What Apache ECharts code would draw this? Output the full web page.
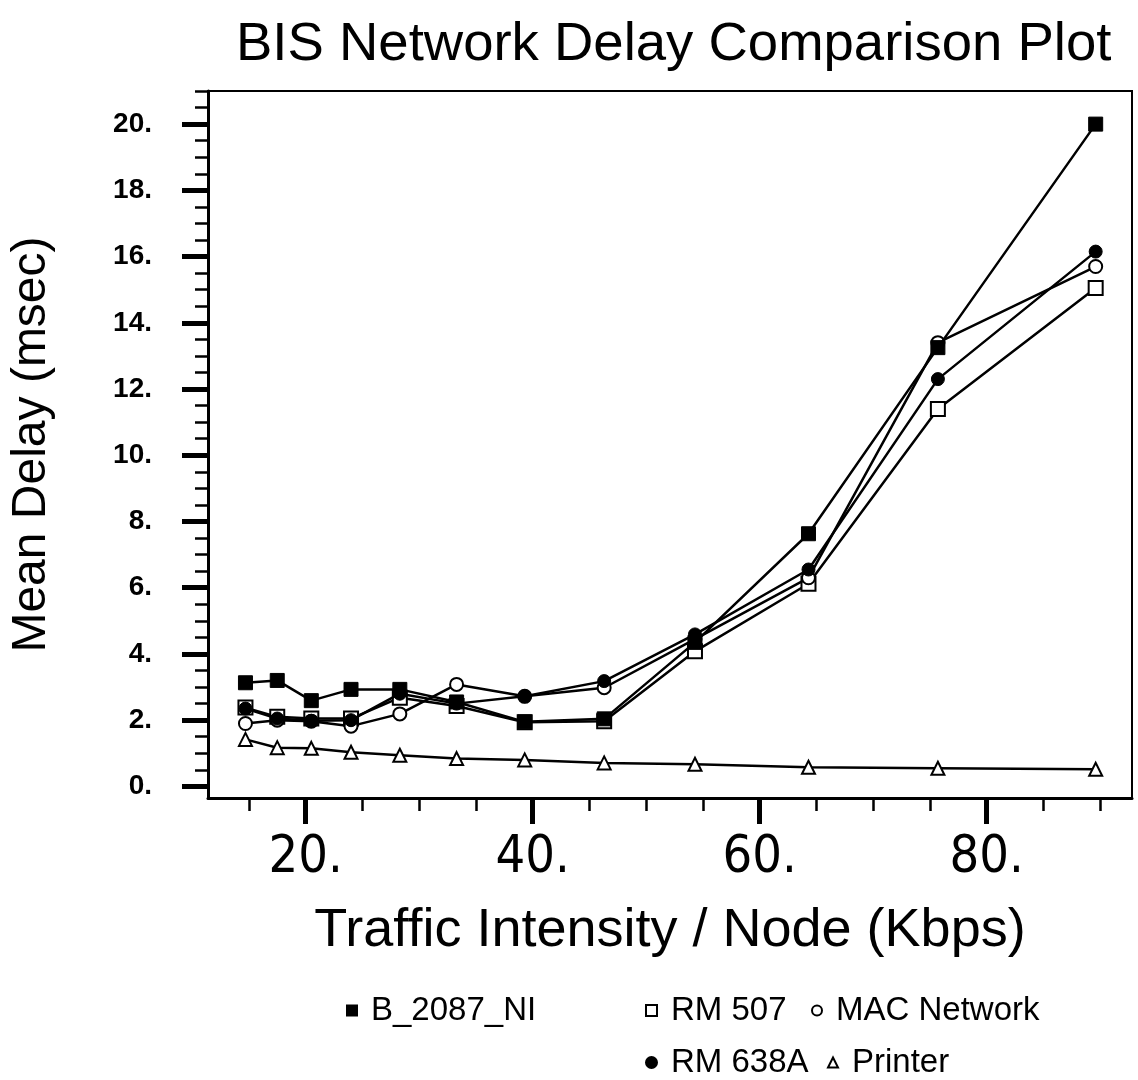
<!DOCTYPE html>
<html>
<head>
<meta charset="utf-8">
<script src="https://cdn.jsdelivr.net/npm/echarts@6/dist/echarts.min.js"></script>
<style>html,body{margin:0;padding:0;background:#fff;}#c{width:1138px;height:1080px;}</style>
</head>
<body>
<div id="c"></div>
<script>
// ---- data ----
const xValues   = [14.7, 17.5, 20.5, 24.0, 28.3, 33.3, 39.3, 46.3, 54.3, 64.3, 75.7, 89.6];
const b2087     = [3.13, 3.20, 2.59, 2.93, 2.93, 2.55, 1.95, 2.04, 4.35, 7.63, 13.25, 20.0];
const rm507     = [2.38, 2.10, 2.05, 2.05, 2.68, 2.43, 1.94, 1.97, 4.08, 6.12, 11.40, 15.05];
const macNet    = [1.90, 2.00, 1.97, 1.82, 2.19, 3.08, 2.72, 2.98, 4.45, 6.30, 13.40, 15.70];
const rm638a    = [2.35, 2.05, 1.98, 2.00, 2.80, 2.50, 2.72, 3.18, 4.59, 6.55, 12.30, 16.15];
const printer   = [1.42, 1.17, 1.15, 1.03, 0.94, 0.84, 0.80, 0.71, 0.67, 0.58, 0.55, 0.52];

const xMajorTicks  = [20, 40, 60, 80];
const xMajorLabels = ['20.', '40.', '60.', '80.'];
const xMinorTicks  = [15, 25, 30, 35, 45, 50, 55, 65, 70, 75, 85, 90];
const yMajorTicks  = [0, 2, 4, 6, 8, 10, 12, 14, 16, 18, 20];
const yMajorLabels = ['0.', '2.', '4.', '6.', '8.', '10.', '12.', '14.', '16.', '18.', '20.'];
const yMinorTicks  = [0.5, 1, 1.5, 2.5, 3, 3.5, 4.5, 5, 5.5, 6.5, 7, 7.5, 8.5, 9, 9.5, 10.5, 11, 11.5,
                      12.5, 13, 13.5, 14.5, 15, 15.5, 16.5, 17, 17.5, 18.5, 19, 19.5, 20.5, 21];

// ---- chart ----
const FONT = "'Liberation Sans', Arial, Helvetica, sans-serif";
const NARROW = "'Liberation Sans Narrow', 'Arial Narrow', 'DejaVu Sans Condensed', 'Liberation Sans', sans-serif";
const X_MIN = 11.4, X_MAX = 92.8, Y_MIN = -0.35, Y_MAX = 21;

function pairs(ys) { return xValues.map((x, i) => [x, ys[i]]); }
function lbl(ticks, labels) { return v => { const i = ticks.indexOf(Math.round(v * 100) / 100); return i >= 0 ? labels[i] : ''; }; }

const filled = { color: '#000', borderColor: '#000', borderWidth: 1 };
const open = { color: '#fff', borderColor: '#000', borderWidth: 2 };
function mkSeries(name, ys, symbol, size, style, z) {
  return {
    name, type: 'line', data: pairs(ys), symbol, symbolSize: size, showSymbol: true,
    color: '#000', lineStyle: { color: '#000', width: 2.5 }, itemStyle: style,
    xAxisIndex: 0, yAxisIndex: 0, z, animation: false, emphasis: { disabled: true }
  };
}

function legendAt(name, icon, left, top, iconSize) {
  return {
    data: [{ name, icon }], left, top, itemWidth: iconSize, itemHeight: iconSize, padding: 0,
    selectedMode: false,
    textStyle: { fontFamily: FONT, fontSize: 33, color: '#000', padding: [0, 0, 0, 9] }
  };
}

const chart = echarts.init(document.getElementById('c'), null, { renderer: 'canvas' });
chart.setOption({
  backgroundColor: '#fff',
  animation: false,
  title: {
    text: 'BIS Network Delay Comparison Plot', left: 231, top: 12,
    textStyle: { fontFamily: FONT, fontSize: 54.5, fontWeight: 'normal', color: '#000' }
  },
  grid: { left: 206, top: 91, width: 926, height: 707, show: true, borderColor: '#000', borderWidth: 2, backgroundColor: 'transparent' },
  legend: [
    legendAt('B_2087_NI', 'rect', 346, 994, 10),
    legendAt('RM 507', 'rect', 645, 994, 11),
    legendAt('MAC Network', 'circle', 811, 994, 10),
    legendAt('RM 638A', 'circle', 645, 1046, 11),
    legendAt('Printer', 'triangle', 827, 1046, 10)
  ],
  xAxis: [
    {
      type: 'value', min: X_MIN, max: X_MAX, position: 'bottom',
      name: 'Traffic Intensity / Node (Kbps)', nameLocation: 'middle', nameGap: 106,
      nameTextStyle: { fontFamily: FONT, fontSize: 54, color: '#000' },
      axisLine: { show: true, onZero: false, lineStyle: { color: '#000', width: 3 } },
      axisTick: { show: true, customValues: xMajorTicks, length: 26, lineStyle: { color: '#000', width: 5 } },
      axisLabel: { show: true, customValues: xMajorTicks, formatter: lbl(xMajorTicks, xMajorLabels), margin: 34,
        fontFamily: NARROW, fontSize: 52, color: '#000' },
      splitLine: { show: false }
    },
    {
      type: 'value', min: X_MIN, max: X_MAX, position: 'bottom', offset: 0,
      axisLine: { show: false, onZero: false },
      axisTick: { show: true, customValues: xMinorTicks, length: 13, lineStyle: { color: '#000', width: 2.5 } },
      axisLabel: { show: false }, splitLine: { show: false }
    }
  ],
  yAxis: [
    {
      type: 'value', min: Y_MIN, max: Y_MAX, position: 'left',
      name: 'Mean Delay (msec)', nameLocation: 'middle', nameGap: 152,
      nameTextStyle: { fontFamily: FONT, fontSize: 48, color: '#000' },
      axisLine: { show: true, onZero: false, lineStyle: { color: '#000', width: 3 } },
      axisTick: { show: true, customValues: yMajorTicks, length: 26, lineStyle: { color: '#000', width: 5 } },
      axisLabel: { show: true, customValues: yMajorTicks, formatter: lbl(yMajorTicks, yMajorLabels), margin: 56,
        fontFamily: FONT, fontSize: 28, fontWeight: 'bold', color: '#000' },
      splitLine: { show: false }
    },
    {
      type: 'value', min: Y_MIN, max: Y_MAX, position: 'left', offset: 0,
      axisLine: { show: false, onZero: false },
      axisTick: { show: true, customValues: yMinorTicks, length: 13, lineStyle: { color: '#000', width: 2.5 } },
      axisLabel: { show: false }, splitLine: { show: false }
    }
  ],
  series: [
    mkSeries('Printer', printer, 'triangle', 13, open, 3),
    mkSeries('RM 507', rm507, 'rect', 14, open, 4),
    mkSeries('MAC Network', macNet, 'circle', 13, open, 5),
    mkSeries('B_2087_NI', b2087, 'rect', 14, filled, 6),
    mkSeries('RM 638A', rm638a, 'circle', 13, filled, 7)
  ]
});
</script>
</body>
</html>
